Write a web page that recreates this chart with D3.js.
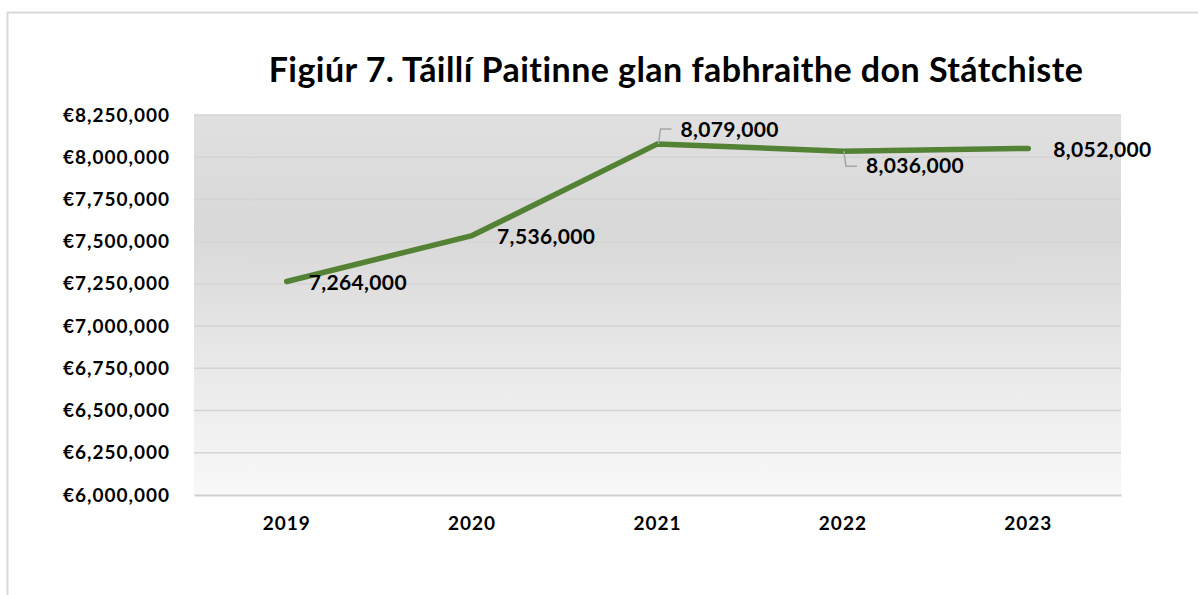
<!DOCTYPE html>
<html><head><meta charset="utf-8">
<script src="https://cdn.jsdelivr.net/npm/d3@7/dist/d3.min.js"></script>
<style>
html,body{margin:0;padding:0;background:#fff;}
svg{display:block;font-family:Lato,"Open Sans",sans-serif;}
</style></head>
<body>
<svg id="c" width="1198" height="595"></svg>
<script>
const title = "Figiúr 7. Táillí Paitinne glan fabhraithe don Státchiste";
const years = ["2019","2020","2021","2022","2023"];
const values = [7264000, 7536000, 8079000, 8036000, 8052000];
const yTicks = [6000000,6250000,6500000,6750000,7000000,7250000,7500000,7750000,8000000,8250000];
const labelPos = ["rightOverlap","right","leaderUp","leaderDown","right"];

const svg = d3.select("#c");
const m = {left:194, right:1121, top:115, bottom:495};

svg.append("path").attr("d","M7.5,595 L7.5,12.5 L1198,12.5")
  .attr("fill","none").attr("stroke","#d9d9d9").attr("stroke-width",2);

const defs = svg.append("defs");
const g = defs.append("linearGradient").attr("id","bg").attr("x1",0).attr("y1",0).attr("x2",0).attr("y2",1);
g.append("stop").attr("offset","0").attr("stop-color","#e0e0e0");
g.append("stop").attr("offset","0.3").attr("stop-color","#d8d8d8");
g.append("stop").attr("offset","1").attr("stop-color","#f8f8f8");

const x = d3.scaleBand().domain(years).range([m.left,m.right]).padding(0);
const y = d3.scaleLinear().domain([6000000,8250000]).range([m.bottom,m.top]);

svg.append("rect").attr("x",m.left).attr("y",m.top).attr("width",m.right-m.left).attr("height",m.bottom-m.top)
  .attr("fill","url(#bg)");

svg.append("g").selectAll("line").data(yTicks.slice(1)).join("line")
  .attr("x1",m.left).attr("x2",m.right).attr("y1",d=>y(d)).attr("y2",d=>y(d))
  .attr("stroke","#d4d4d4").attr("stroke-width",1.5);

const fmt = d3.format(",");
const yAxis = d3.axisLeft(y).tickValues(yTicks).tickSize(0).tickPadding(24).tickFormat(d=>"€"+fmt(d));
const ya = svg.append("g").attr("transform",`translate(${m.left},0)`).call(yAxis);
ya.select(".domain").remove();
ya.selectAll("text").attr("font-size",19).attr("font-weight","bold").attr("fill","#000")
  .attr("letter-spacing","1px").attr("font-family","Lato,sans-serif");

const xAxis = d3.axisBottom(x).tickSize(0).tickPadding(22);
const xa = svg.append("g").attr("transform",`translate(0,${m.bottom})`).call(xAxis);
xa.select(".domain").attr("stroke","#d0d0d0").attr("stroke-width",2);
xa.selectAll("text").attr("font-size",19).attr("font-weight","bold").attr("fill","#000")
  .attr("letter-spacing","1px").attr("font-family","Lato,sans-serif");

const cx = d=>x(d)+x.bandwidth()/2;
const line = d3.line().x((d,i)=>cx(years[i])).y(d=>y(d));
svg.append("path").datum(values).attr("d",line).attr("fill","none")
  .attr("stroke","#548235").attr("stroke-width",5.5).attr("stroke-linecap","round").attr("stroke-linejoin","round");

const lab = svg.append("g").attr("font-size",21).attr("font-weight","bold").attr("fill","#000")
  .attr("letter-spacing","0.35px");
values.forEach((v,i)=>{
  const px = cx(years[i]), py = y(v);
  let tx, ty;
  const p = labelPos[i];
  if(p==="rightOverlap"){ tx=px+22; ty=py+1; }
  else if(p==="right"){ tx=px+25; ty=py+1; }
  else if(p==="leaderUp"){
    tx=px+23; ty=py-14;
    svg.append("path").attr("d",`M${px+1},${py} L${px+3},${py-15} L${px+14},${py-15}`)
      .attr("fill","none").attr("stroke","#a6a6a6").attr("stroke-width",1.5);
  } else {
    tx=px+23; ty=py+15;
    svg.append("path").attr("d",`M${px+1},${py} L${px+3},${py+15} L${px+14},${py+15}`)
      .attr("fill","none").attr("stroke","#a6a6a6").attr("stroke-width",1.5);
  }
  lab.append("text").attr("x",tx).attr("y",ty).attr("dy","0.35em").text(fmt(v));
});

svg.append("text").attr("x",676).attr("y",70).attr("dy","0.35em").attr("text-anchor","middle")
  .attr("font-size",34).attr("font-weight","bold").attr("fill","#000")
  .attr("letter-spacing","0.45px").text(title);
</script>
</body></html>
